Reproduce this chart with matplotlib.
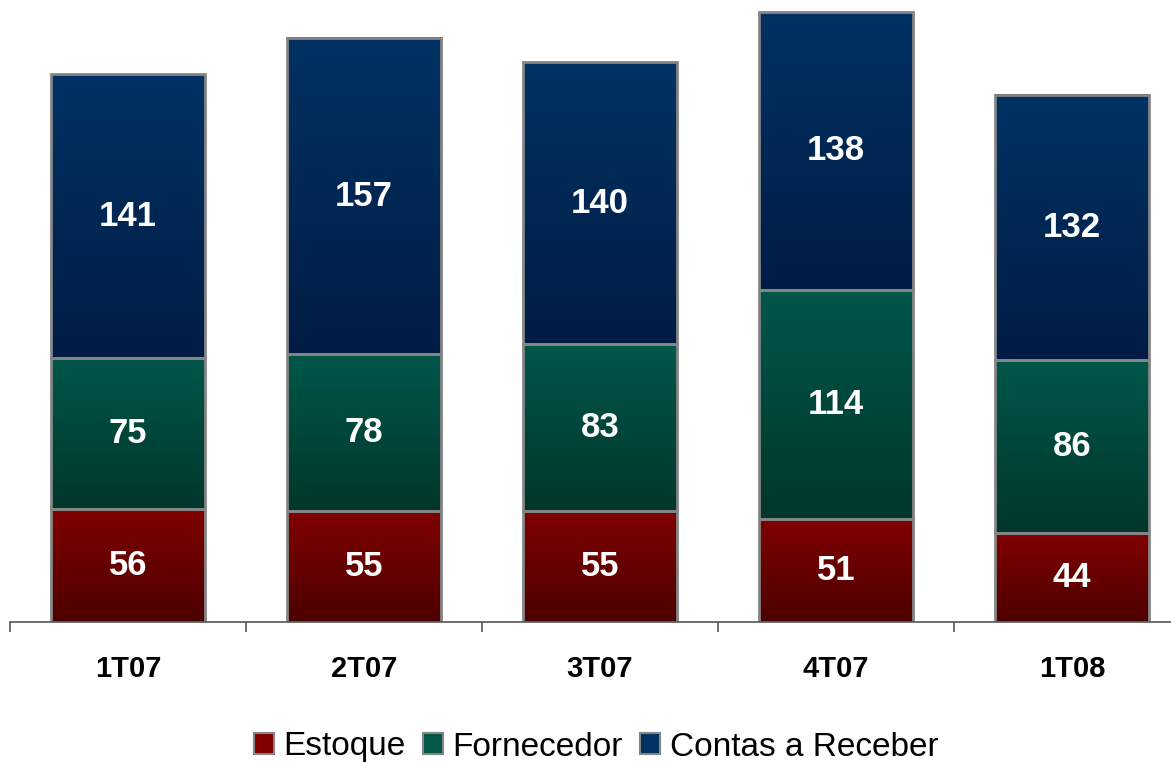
import matplotlib.pyplot as plt
import numpy as np
from matplotlib.colors import LinearSegmentedColormap
from matplotlib.patches import Patch

plt.rcParams['font.family'] = ['Liberation Sans', 'DejaVu Sans']

categories = ['1T07', '2T07', '3T07', '4T07', '1T08']
estoque = [56, 55, 55, 51, 44]
fornecedor = [75, 78, 83, 114, 86]
contas = [141, 157, 140, 138, 132]

series = [
    ('Estoque', estoque, '#800000', '#4c0000'),
    ('Fornecedor', fornecedor, '#00574a', '#00362b'),
    ('Contas a Receber', contas, '#003263', '#001c44'),
]

fig = plt.figure(figsize=(11.71, 7.62), dpi=100)
ax = fig.add_axes([10 / 1171, 140 / 762, 1180 / 1171, 622 / 762])

x = np.arange(len(categories))
width = 0.65
bottom = np.zeros(len(categories))
grad = np.linspace(1, 0, 256).reshape(-1, 1)

for name, vals, ctop, cbot in series:
    cmap = LinearSegmentedColormap.from_list(name, [cbot, ctop])
    for xi, b, v in zip(x, bottom, vals):
        ax.imshow(grad, cmap=cmap, aspect='auto', interpolation='bicubic',
                  extent=[xi - width / 2, xi + width / 2, b, b + v], zorder=1)
        ax.text(xi, b + v / 2, str(v), ha='center', va='center', color='white',
                fontsize=25, fontweight='bold', zorder=3)
    ax.bar(x, vals, width, bottom=bottom, facecolor='none', edgecolor='#858585',
           linewidth=2, zorder=2)
    bottom += np.array(vals)

ax.set_xlim(-0.5, len(categories) - 0.5)
ax.set_ylim(0, 309)
for s in ['top', 'right', 'left']:
    ax.spines[s].set_visible(False)
ax.spines['bottom'].set_color('#555555')
ax.spines['bottom'].set_linewidth(1.2)
ax.set_yticks([])
ax.set_xticks(np.arange(-0.5, len(categories), 1.0), minor=False)
ax.set_xticklabels([])
ax.tick_params(axis='x', length=7, width=1.2, color='#555555', direction='out')
ax.set_xticks(x, minor=True)
ax.set_xticklabels(categories, minor=True, fontsize=21, fontweight='bold')
ax.tick_params(axis='x', which='minor', length=0, pad=24)

handles = [Patch(facecolor=c, edgecolor='#858585', linewidth=1.5, label=n)
           for n, _, c, _ in series]
fig.legend(handles=handles, loc='center', bbox_to_anchor=(596 / 1171, 15 / 762),
           ncol=3, frameon=False, fontsize=24, handlelength=0.6, handleheight=0.6,
           handletextpad=0.3, columnspacing=0.5)

fig.savefig('out.png', dpi=100)
